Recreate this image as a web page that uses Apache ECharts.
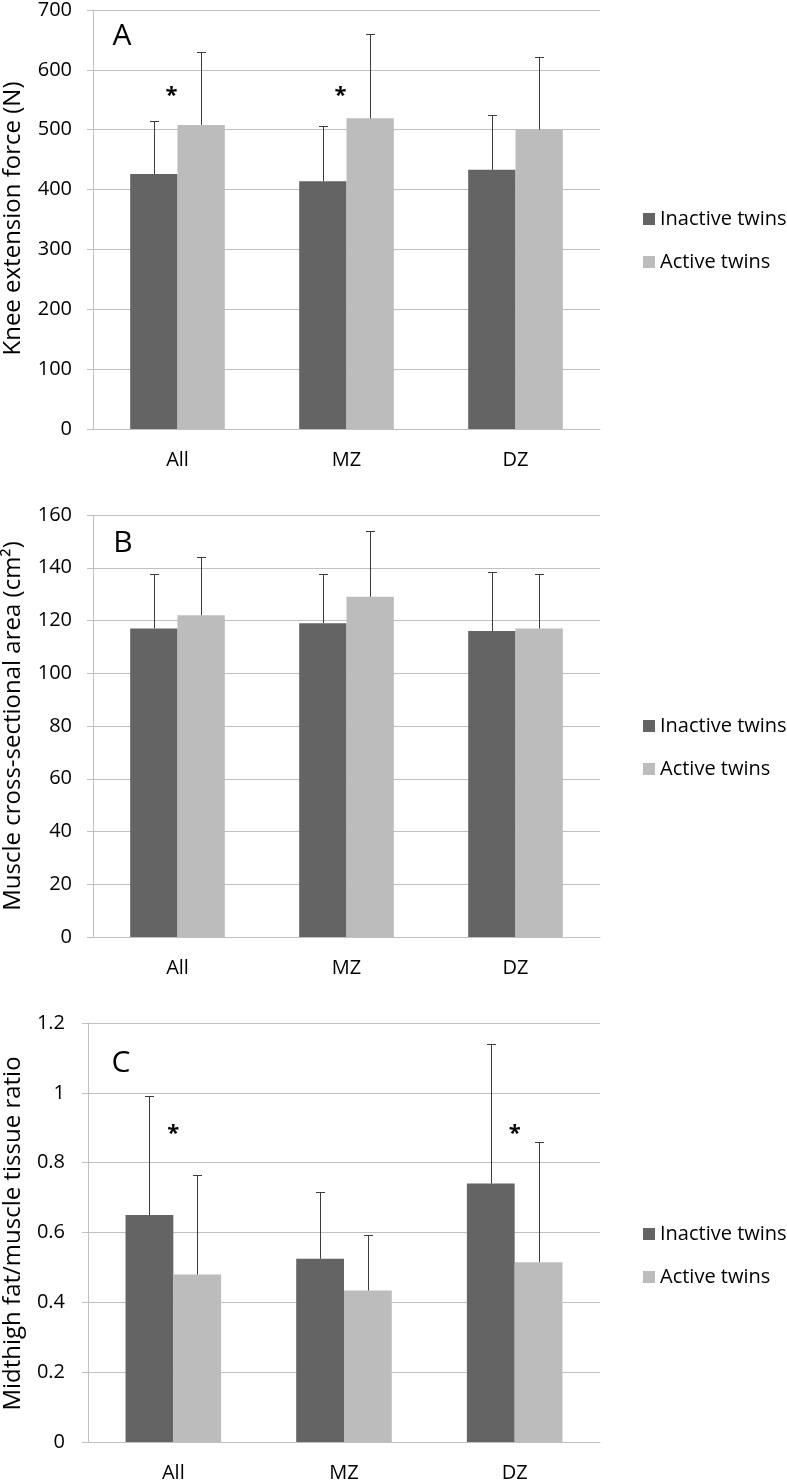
<!DOCTYPE html>
<html>
<head>
<meta charset="utf-8">
<script src="https://cdn.jsdelivr.net/npm/echarts@6/dist/echarts.min.js"></script>
<style>
html,body{margin:0;padding:0;background:#fff;}
#chart{width:787px;height:1483px;}
</style>
</head>
<body>
<div id="chart"></div>
<script>
// ---- data ----
const categories = ['All', 'MZ', 'DZ'];
const seriesNames = ['Inactive twins', 'Active twins'];

const forceInactive = [426, 414, 433];
const forceInactiveSD = [88, 92, 91];
const forceActive = [508, 519, 500];
const forceActiveSD = [122, 141, 121];
const forceStars = [564, 564, null];

const csaInactive = [117, 119, 116];
const csaInactiveSD = [20.5, 18.5, 22.5];
const csaActive = [122, 129, 117];
const csaActiveSD = [22, 25, 20.5];

const fatInactive = [0.65, 0.525, 0.74];
const fatInactiveSD = [0.34, 0.19, 0.40];
const fatActive = [0.48, 0.434, 0.515];
const fatActiveSD = [0.285, 0.16, 0.345];
const fatStars = [0.894, null, 0.894];

const panelLetters = ['A', 'B', 'C'];
const yTitles = ['Knee extension force (N)', 'Muscle cross-sectional area (cm\u00B2)', 'Midthigh fat/muscle tissue ratio'];
const yMin = [0, 0, 0];
const yMax = [700, 160, 1.2];
const yInterval = [100, 20, 0.2];

// ---- style ----
const FONT = '"Open Sans", sans-serif';
const DARK = '#646464';
const LIGHT = '#bcbcbc';
const GRID = '#c0c0c0';
const TXT = '#000';
const ERR = '#3c3c3c';

const grids = [
  {left: 93, right: 187, top: 8, height: 421},
  {left: 93, right: 187, top: 515, height: 422},
  {left: 88, right: 187, top: 1023, height: 421}
];
const labelMargins = [21, 21, 23];
const legendTops = [204, 711, 1219];
const letterPos = [[122, 36], [123, 543], [121, 1063]];
const starOffsets = [-6, -6, 0];

const panels = [
  {inact: forceInactive, inactSD: forceInactiveSD, act: forceActive, actSD: forceActiveSD, stars: forceStars},
  {inact: csaInactive, inactSD: csaInactiveSD, act: csaActive, actSD: csaActiveSD, stars: null},
  {inact: fatInactive, inactSD: fatInactiveSD, act: fatActive, actSD: fatActiveSD, stars: fatStars}
];

const BARW = 0.28;

function errSeries(gi, means, sds, side) {
  return {
    type: 'custom',
    xAxisIndex: gi, yAxisIndex: gi,
    z: 5,
    silent: true,
    encode: {x: 0, y: [1, 2]},
    data: means.map((m, i) => [i, m, m + sds[i]]),
    renderItem: function (params, api) {
      const i = api.value(0);
      const band = api.size([1, 0])[0];
      const off = side * band * BARW / 2;
      const p0 = api.coord([i, api.value(1)]);
      const p1 = api.coord([i, api.value(2)]);
      const x = Math.round(p0[0] + off) + 0.5;
      const yt = Math.round(p1[1]) + 0.5;
      return {
        type: 'group',
        children: [
          {type: 'line', shape: {x1: x, y1: p0[1], x2: x, y2: yt}, style: {stroke: ERR, lineWidth: 1}},
          {type: 'line', shape: {x1: x - 4.5, y1: yt, x2: x + 4.5, y2: yt}, style: {stroke: ERR, lineWidth: 1}}
        ]
      };
    }
  };
}

function starSeries(gi, stars) {
  return {
    type: 'custom',
    xAxisIndex: gi, yAxisIndex: gi,
    z: 6, silent: true,
    encode: {x: 0, y: 1},
    data: stars.map((v, i) => v == null ? null : [i, v]).filter(d => d),
    renderItem: function (params, api) {
      const p = api.coord([api.value(0), api.value(1)]);
      return {
        type: 'text',
        x: p[0] + starOffsets[gi], y: p[1] + 4,
        style: {text: '*', fontSize: 22, fontWeight: 'bold', fontFamily: FONT, fill: TXT,
          align: 'center', verticalAlign: 'middle'}
      };
    }
  };
}

const xAxes = [], yAxes = [], series = [], legends = [], graphics = [];

grids.forEach((g, gi) => {
  xAxes.push({
    type: 'category', gridIndex: gi, data: categories,
    axisLine: {show: true, lineStyle: {color: GRID, width: 1}},
    axisTick: {show: false},
    axisLabel: {fontSize: 20, fontFamily: FONT, color: TXT, margin: 21}
  });
  yAxes.push({
    type: 'value', gridIndex: gi, min: yMin[gi], max: yMax[gi], interval: yInterval[gi],
    axisLine: {show: true, lineStyle: {color: GRID, width: 1}},
    axisTick: {show: true, length: 6, lineStyle: {color: GRID, width: 1}},
    splitLine: {show: true, lineStyle: {color: GRID, width: 1}},
    axisLabel: {fontSize: 20, fontFamily: FONT, color: TXT, margin: labelMargins[gi]}
  });
  const p = panels[gi];
  series.push({
    name: seriesNames[0], type: 'bar', xAxisIndex: gi, yAxisIndex: gi,
    data: p.inact, barWidth: (BARW * 100) + '%', barGap: '0%',
    itemStyle: {color: DARK}, silent: true
  });
  series.push({
    name: seriesNames[1], type: 'bar', xAxisIndex: gi, yAxisIndex: gi,
    data: p.act, barWidth: (BARW * 100) + '%', barGap: '0%',
    itemStyle: {color: LIGHT}, silent: true
  });
  series.push(errSeries(gi, p.inact, p.inactSD, -1));
  series.push(errSeries(gi, p.act, p.actSD, 1));
  if (p.stars) series.push(starSeries(gi, p.stars));
  legends.push({
    orient: 'vertical', left: 638, top: legendTops[gi],
    data: seriesNames, icon: 'rect', itemWidth: 12, itemHeight: 12, itemGap: 23,
    selectedMode: false,
    textStyle: {fontSize: 20, fontFamily: FONT, color: TXT, lineHeight: 20}
  });
  graphics.push({
    type: 'text', x: letterPos[gi][0], y: letterPos[gi][1],
    style: {text: panelLetters[gi], fontSize: 30, fontFamily: FONT, fill: TXT, align: 'center', verticalAlign: 'middle'}
  });
  graphics.push({
    type: 'text', x: 13, y: g.top + g.height / 2, rotation: Math.PI / 2,
    style: {text: yTitles[gi], fontSize: 24, fontFamily: FONT, fill: TXT, align: 'center', verticalAlign: 'middle'}
  });
});

const chart = echarts.init(document.getElementById('chart'), null, {renderer: 'canvas'});
chart.setOption({
  animation: false,
  backgroundColor: '#fff',
  grid: grids,
  xAxis: xAxes,
  yAxis: yAxes,
  legend: legends,
  series: series,
  graphic: graphics
});
</script>
</body>
</html>
